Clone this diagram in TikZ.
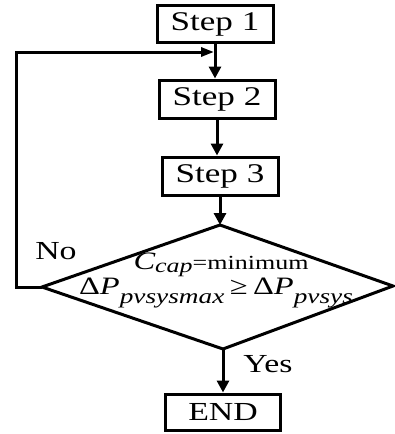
\documentclass[tikz,border=0pt]{standalone}
\usepackage{fontspec}
\setmainfont{Liberation Serif}
\usetikzlibrary{arrows.meta}
\newcommand\stx[1]{\scalebox{1.3}[1]{#1}}
\newcommand\fs[1]{\fontsize{#1}{#1}\selectfont}
\begin{document}
\begin{tikzpicture}[x=1pt,y=-1pt,
  box/.style={draw, line width=3pt, minimum width=116pt, minimum height=37pt, inner sep=0pt, font=\fs{27}},
  arr/.style={line width=3pt, -{Triangle[length=12pt,width=12pt]}},
  lbl/.style={inner sep=0pt, font=\fs{26}}]
\useasboundingbox (0,0) rectangle (394,434);
\node[box] (s1) at (215,24) {\stx{Step 1}};
\node[box, minimum height=38pt] (s2) at (217,99) {\stx{Step 2}};
\node[box, minimum height=38pt] (s3) at (220,176) {\stx{Step 3}};
\node[box, minimum width=115pt, minimum height=36pt, font=\fs{26}] (e) at (223,412) {\stx{END}};
\coordinate (dt) at (220,225);
\coordinate (dl) at (42,287);
\coordinate (dr) at (393,286);
\coordinate (db) at (223,349);
\draw[line width=3pt, line join=miter] (dt) -- (dr) -- (db) -- (dl) -- cycle;
\coordinate (j) at (214,52);
\coordinate (lc) at (16,287);
\coordinate (tc) at (16,52);
\draw[arr] (s1.south) -- (s1.south |- s2.north);
\draw[arr] (s2.south) -- (s2.south |- s3.north);
\draw[arr] (s3.south) -- (dt);
\draw[arr] (db) -- (e.north);
\draw[line width=3pt, line join=miter, -{Triangle[length=13pt,width=9pt]}] (dl) -- (lc) -- (tc) -- (j);
\node[lbl] (no) at (56,251) {\stx{No}};
\node[lbl] (yes) at (268,364) {\stx{Yes}};
\node[anchor=base, inner sep=0pt] (c1) at (221,269) {\stx{\fs{25}\itshape C\raisebox{-3pt}{\fs{20}cap}\upshape\fs{20}=minimum}};
\node[anchor=base, inner sep=0pt] (c2) at (216,294) {\stx{\fs{25}Δ\itshape P\raisebox{-9pt}{\fs{21}pvsysmax}\upshape\,≥\,Δ\itshape P\raisebox{-9pt}{\fs{21}pvsys}}};
\end{tikzpicture}
\end{document}
